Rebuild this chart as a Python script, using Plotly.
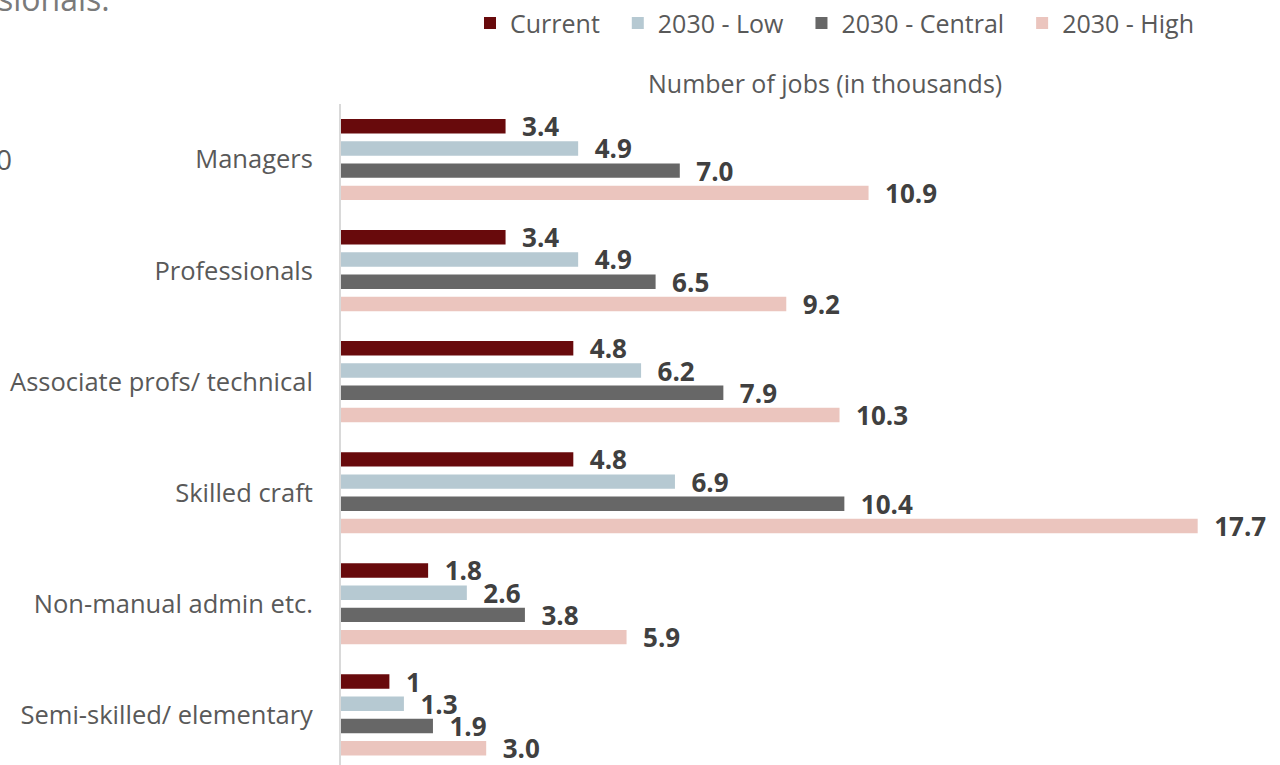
import plotly.graph_objects as go

# Occupational groups, top to bottom
categories = [
    "Managers",
    "Professionals",
    "Associate profs/ technical",
    "Skilled craft",
    "Non-manual admin etc.",
    "Semi-skilled/ elementary",
]

# Number of jobs (thousands) per scenario
series_names = ["Current", "2030 - Low", "2030 - Central", "2030 - High"]
current = [3.4, 3.4, 4.8, 4.8, 1.8, 1]
low_2030 = [4.9, 4.9, 6.2, 6.9, 2.6, 1.3]
central_2030 = [7.0, 6.5, 7.9, 10.4, 3.8, 1.9]
high_2030 = [10.9, 9.2, 10.3, 17.7, 5.9, 3.0]

colors = ["#680a0c", "#b6c9d2", "#676767", "#ebc5be"]

W, H = 1280, 765
L, T = 341, 102
PX_PER_UNIT = 48.4          # horizontal scale
CAT_PX = 111.4              # height of one category band

FONT = "Open Sans"
GREY = "#595959"
NBSP = "\u00a0"


def fmt(v, keep_int=False):
    if keep_int and float(v).is_integer():
        return f"{int(v)}"
    return f"{v:.1f}"


fig = go.Figure()
for name, vals, col, keep in zip(
    series_names,
    [current, low_2030, central_2030, high_2030],
    colors,
    [True, False, False, False],
):
    fig.add_trace(
        go.Bar(
            name=name + NBSP * 2,
            y=categories,
            x=vals,
            orientation="h",
            marker=dict(color=col, line=dict(width=0)),
            text=[NBSP * 2 + fmt(v, keep) for v in vals],
            textposition="outside",
            textfont=dict(family=FONT, size=26, color="#404040", weight="bold"),
            constraintext="none",
            cliponaxis=False,
        )
    )

x_max = (W - L) / PX_PER_UNIT
plot_h = H - T
y_span = plot_h / CAT_PX

fig.update_layout(
    width=W,
    height=H,
    margin=dict(l=L, r=0, t=T, b=0, pad=0),
    paper_bgcolor="white",
    plot_bgcolor="white",
    barmode="group",
    bargap=0.2,
    bargroupgap=0.35,
    font=dict(family=FONT, color=GREY),
    showlegend=True,
    legend=dict(
        orientation="h",
        x=(470 - L) / (W - L),
        xanchor="left",
        y=(H - 21) / plot_h,
        yanchor="middle",
        font=dict(family=FONT, size=25, color=GREY),
        bgcolor="rgba(0,0,0,0)",
        traceorder="normal",
    ),
    xaxis=dict(
        range=[0, x_max],
        showgrid=False,
        zeroline=False,
        showticklabels=False,
        showline=False,
        ticks="",
        automargin=False,
    ),
    yaxis=dict(
        type="category",
        categoryorder="array",
        categoryarray=categories,
        range=[-0.5 + y_span, -0.5],
        showgrid=False,
        zeroline=False,
        showline=True,
        linecolor="#d9d9d9",
        linewidth=2,
        ticks="",
        ticklabelstandoff=21,
        tickfont=dict(family=FONT, size=25.5, color=GREY),
        automargin=False,
    ),
)

# Axis caption above the bars
fig.add_annotation(
    text="Number of jobs (in thousands)",
    xref="x",
    x=10,
    yref="paper",
    y=(H - 81) / plot_h,
    xanchor="center",
    yanchor="middle",
    showarrow=False,
    font=dict(family=FONT, size=25, color=GREY),
)

# Surrounding slide text cut off at the edges
fig.add_annotation(
    text="sionals:",
    xref="paper",
    x=(-4 - L) / (W - L),
    yref="paper",
    y=(H + 4) / plot_h,
    xanchor="left",
    yanchor="middle",
    showarrow=False,
    font=dict(family=FONT, size=32, color="#7a7a7a"),
)
fig.add_annotation(
    text="0",
    xref="paper",
    x=(14 - L) / (W - L),
    yref="paper",
    y=(H - 157) / plot_h,
    xanchor="right",
    yanchor="middle",
    showarrow=False,
    font=dict(family=FONT, size=28, color=GREY),
)

fig.write_html("out.html")
